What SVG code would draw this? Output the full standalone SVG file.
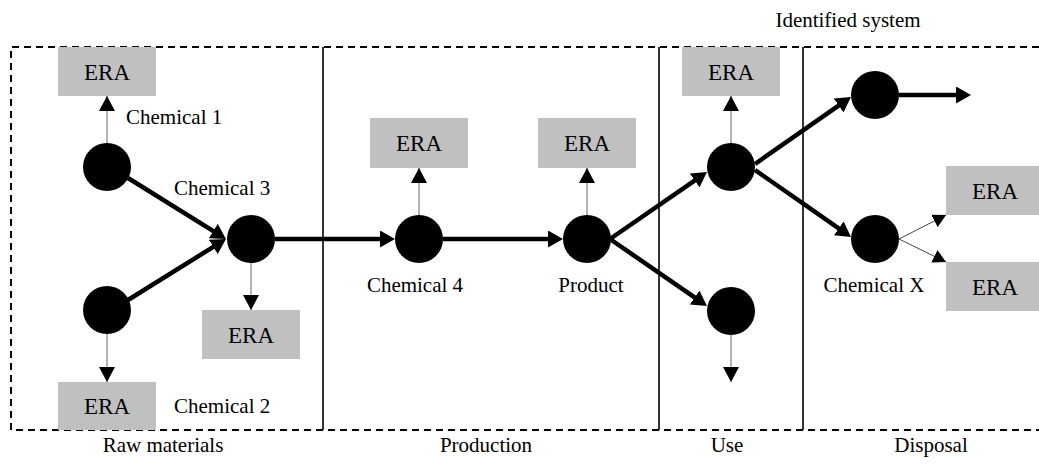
<svg xmlns="http://www.w3.org/2000/svg" width="1039" height="467" viewBox="0 0 1039 467">
<style>
.lbl{font-family:"Liberation Serif","Times New Roman",serif;font-size:21px;fill:#000}
.era rect{fill:#c0c0c0}
.era text{font-family:"Liberation Serif","Times New Roman",serif;font-size:23px;fill:#000;text-anchor:middle}
.node circle{fill:#000}
.thick{stroke:#000;stroke-width:4.5;fill:none}
.thin{stroke:#8a8a8a;stroke-width:1.3;fill:none}
.thin2{stroke:#444;stroke-width:1;fill:none}
.frame{stroke:#000;stroke-width:2;fill:none;stroke-dasharray:7 5}
.sep{stroke:#000;stroke-width:1.6}
</style>
<defs>
<marker id="ahT" markerUnits="userSpaceOnUse" markerWidth="16" markerHeight="17" refX="3" refY="8.5" orient="auto">
<path d="M0,0 L15,8.5 L0,17 z" fill="#000"/>
</marker>
<marker id="ah" markerUnits="userSpaceOnUse" markerWidth="16" markerHeight="16" refX="15" refY="8" orient="auto">
<path d="M0,0 L15,8 L0,16 z" fill="#000"/>
</marker>
<marker id="ahs" markerUnits="userSpaceOnUse" markerWidth="14" markerHeight="14" refX="13" refY="7" orient="auto">
<path d="M0,0 L13,7 L0,14 z" fill="#000"/>
</marker>
</defs>
<rect width="1039" height="467" fill="#fff"/>
<g id="frame">
<path class="frame" d="M1039,47 H11 V430 H1039"/>
<line class="sep" x1="323" y1="47" x2="323" y2="430"/>
<line class="sep" x1="659" y1="47" x2="659" y2="430"/>
<line class="sep" x1="803" y1="47" x2="803" y2="430"/>
</g>
<g id="stage-labels">
<text class="lbl" x="848" y="27" text-anchor="middle">Identified system</text>
<text class="lbl" x="163" y="452" text-anchor="middle">Raw materials</text>
<text class="lbl" x="486" y="452" text-anchor="middle">Production</text>
<text class="lbl" x="727" y="452" text-anchor="middle">Use</text>
<text class="lbl" x="931" y="452" text-anchor="middle">Disposal</text>
</g>
<g id="connectors">
<line class="thick" x1="128" y1="178" x2="215.8" y2="232.7" marker-end="url(#ahT)"/>
<line class="thick" x1="128" y1="300" x2="215.8" y2="245.3" marker-end="url(#ahT)"/>
<line class="thick" x1="275" y1="239" x2="383" y2="239" marker-end="url(#ahT)"/>
<line class="thick" x1="443" y1="239" x2="551" y2="239" marker-end="url(#ahT)"/>
<line class="thick" x1="610" y1="239" x2="697.1" y2="178.8" marker-end="url(#ahT)"/>
<line class="thick" x1="610" y1="239" x2="697.1" y2="299.2" marker-end="url(#ahT)"/>
<line class="thick" x1="755" y1="164" x2="841.1" y2="103.8" marker-end="url(#ahT)"/>
<line class="thick" x1="755" y1="170" x2="841.2" y2="230.1" marker-end="url(#ahT)"/>
<line class="thick" x1="899" y1="95" x2="959" y2="95" marker-end="url(#ahT)"/>
<line class="thin" x1="107" y1="143" x2="107" y2="96" marker-end="url(#ah)"/>
<line class="thin" x1="107" y1="334" x2="107" y2="382" marker-end="url(#ah)"/>
<line class="thin" x1="251" y1="263" x2="251" y2="310" marker-end="url(#ah)"/>
<line class="thin" x1="419" y1="215" x2="419" y2="168" marker-end="url(#ah)"/>
<line class="thin" x1="587" y1="215" x2="587" y2="168" marker-end="url(#ah)"/>
<line class="thin" x1="731" y1="143" x2="731" y2="96" marker-end="url(#ah)"/>
<line class="thin" x1="731" y1="335" x2="731" y2="382" marker-end="url(#ah)"/>
<line class="thin2" x1="899" y1="239" x2="946" y2="215" marker-end="url(#ahs)"/>
<line class="thin2" x1="899" y1="239" x2="946" y2="262" marker-end="url(#ahs)"/>
</g>
<g id="era1" class="era"><rect x="58" y="47" width="98" height="49"/><text x="107" y="79.5">ERA</text></g>
<g id="era2" class="era"><rect x="58" y="382" width="98" height="48"/><text x="107" y="414">ERA</text></g>
<g id="era3" class="era"><rect x="202" y="310" width="98" height="49"/><text x="251" y="342.5">ERA</text></g>
<g id="era4" class="era"><rect x="370" y="118" width="98" height="50"/><text x="419" y="150.5">ERA</text></g>
<g id="era5" class="era"><rect x="538" y="118" width="98" height="50"/><text x="587" y="150.5">ERA</text></g>
<g id="era6" class="era"><rect x="682" y="47" width="98" height="49"/><text x="731" y="79.5">ERA</text></g>
<g id="era7" class="era"><rect x="946" y="166" width="98" height="49"/><text x="995" y="198.5">ERA</text></g>
<g id="era8" class="era"><rect x="946" y="262" width="98" height="49"/><text x="995" y="294.5">ERA</text></g>
<g id="chem1" class="node"><circle cx="107" cy="167" r="24"/><text class="lbl" x="126" y="124">Chemical 1</text></g>
<g id="chem2" class="node"><circle cx="107" cy="310" r="24"/><text class="lbl" x="174" y="413">Chemical 2</text></g>
<g id="chem3" class="node"><circle cx="251" cy="239" r="24"/><text class="lbl" x="174" y="195">Chemical 3</text></g>
<g id="chem4" class="node"><circle cx="419" cy="239" r="24"/><text class="lbl" x="415" y="292" text-anchor="middle">Chemical 4</text></g>
<g id="product" class="node"><circle cx="587" cy="239" r="24"/><text class="lbl" x="591" y="292" text-anchor="middle">Product</text></g>
<g id="use1" class="node"><circle cx="731" cy="167" r="24"/></g>
<g id="use2" class="node"><circle cx="731" cy="311" r="24"/></g>
<g id="disp1" class="node"><circle cx="875" cy="95" r="24"/></g>
<g id="chemX" class="node"><circle cx="875" cy="239" r="24"/><text class="lbl" x="874" y="292" text-anchor="middle">Chemical X</text></g>
</svg>
